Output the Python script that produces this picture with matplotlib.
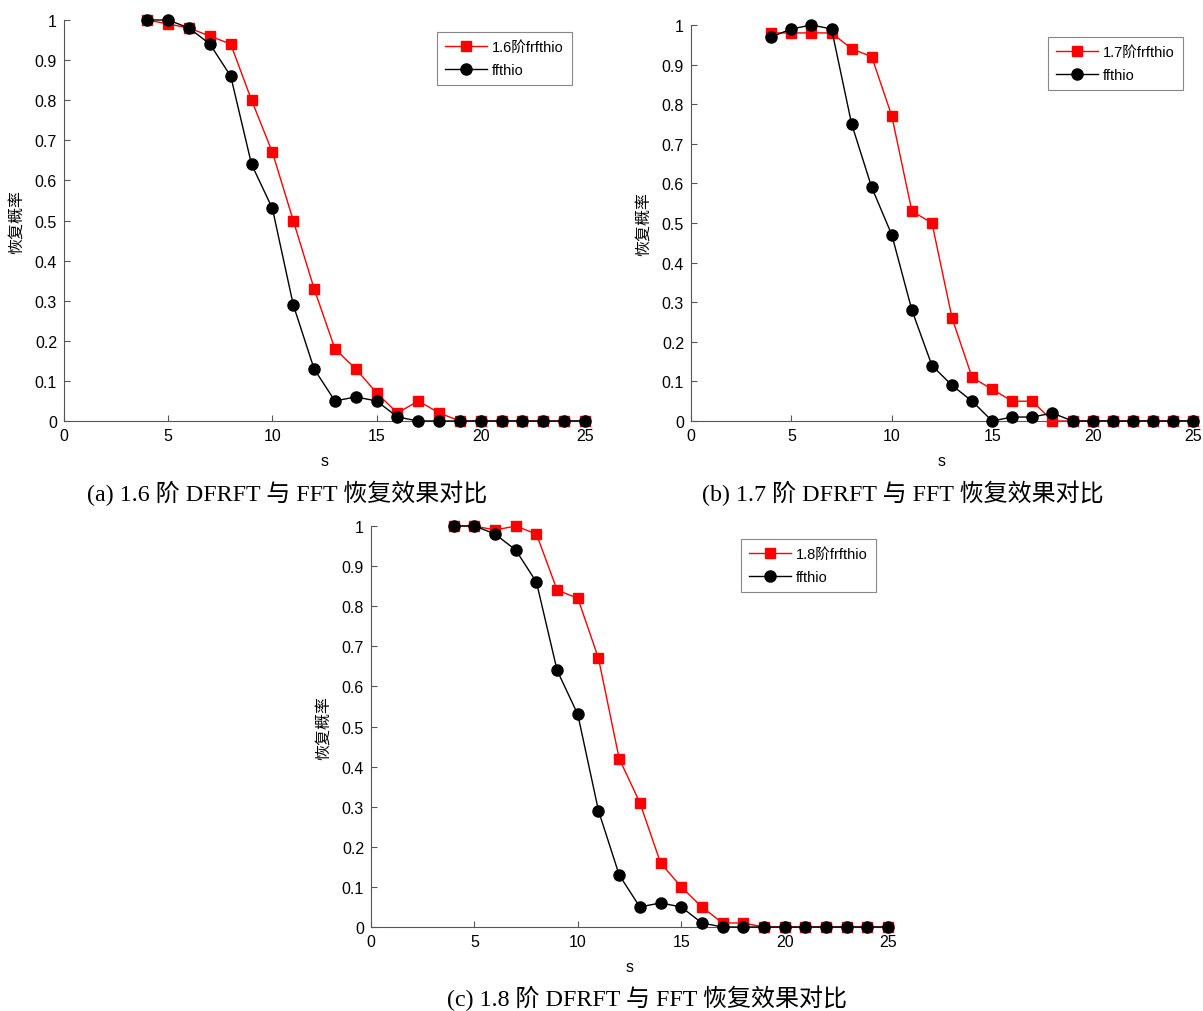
import matplotlib.pyplot as plt

plt.rcParams['font.family'] = ['Liberation Sans', 'Noto Sans CJK SC']

s = list(range(4, 26))

# 1.6 阶
red_16 = [1.0, 0.99, 0.98, 0.96, 0.94, 0.80, 0.67, 0.50, 0.33, 0.18, 0.13,
          0.07, 0.02, 0.05, 0.02, 0, 0, 0, 0, 0, 0, 0]
fft_16 = [1.0, 1.0, 0.98, 0.94, 0.86, 0.64, 0.53, 0.29, 0.13, 0.05, 0.06,
          0.05, 0.01, 0, 0, 0, 0, 0, 0, 0, 0, 0]

# 1.7 阶
red_17 = [0.98, 0.98, 0.98, 0.98, 0.94, 0.92, 0.77, 0.53, 0.50, 0.26, 0.11,
          0.08, 0.05, 0.05, 0.0, 0, 0, 0, 0, 0, 0, 0]
fft_17 = [0.97, 0.99, 1.0, 0.99, 0.75, 0.59, 0.47, 0.28, 0.14, 0.09, 0.05,
          0.0, 0.01, 0.01, 0.02, 0, 0, 0, 0, 0, 0, 0]

# 1.8 阶
red_18 = [1.0, 1.0, 0.99, 1.0, 0.98, 0.84, 0.82, 0.67, 0.42, 0.31, 0.16,
          0.10, 0.05, 0.01, 0.01, 0, 0, 0, 0, 0, 0, 0]
fft_18 = [1.0, 1.0, 0.98, 0.94, 0.86, 0.64, 0.53, 0.29, 0.13, 0.05, 0.06,
          0.05, 0.01, 0, 0, 0, 0, 0, 0, 0, 0, 0]

orders = ['1.6', '1.7', '1.8']
reds = [red_16, red_17, red_18]
ffts = [fft_16, fft_17, fft_18]
tags = ['(a)', '(b)', '(c)']

yticks = [0, 0.1, 0.2, 0.3, 0.4, 0.5, 0.6, 0.7, 0.8, 0.9, 1]
ytick_labels = ['0', '0.1', '0.2', '0.3', '0.4', '0.5', '0.6', '0.7', '0.8', '0.9', '1']

W, H = 1203, 1012
# axes boxes in pixels: left, right, top, bottom
boxes = [(64, 585, 21, 422), (691, 1193, 26, 422), (371, 888, 527, 928)]
legend_anchor = [(572, 33), (1183, 38), (876, 540)]
caption_pos = [(287, 493), (903, 493), (647, 998)]

fig = plt.figure(figsize=(W / 100, H / 100), dpi=100)
serif = ['Liberation Serif', 'Noto Sans CJK SC']

for i in range(3):
    l, r, t, b = boxes[i]
    ax = fig.add_axes([l / W, 1 - b / H, (r - l) / W, (b - t) / H])
    ax.plot(s, reds[i], color='red', marker='s', markersize=6.5, linewidth=1,
            label=orders[i] + '阶frfthio', zorder=2, clip_on=False)
    ax.plot(s, ffts[i], color='black', marker='o', markersize=8, linewidth=1,
            label='ffthio', zorder=3, clip_on=False)
    ax.set_xlim(0, 25)
    ax.set_ylim(0, 1)
    ax.set_xticks([0, 5, 10, 15, 20, 25])
    ax.set_yticks(yticks)
    ax.set_yticklabels(ytick_labels)
    ax.tick_params(direction='in', length=4, labelsize=11.5, color='#555555',
                   labelcolor='black', pad=5)
    for side in ['top', 'right']:
        ax.spines[side].set_visible(False)
    for side in ['left', 'bottom']:
        ax.spines[side].set_color('#555555')
        ax.spines[side].set_linewidth(0.8)
    ax.set_xlabel('s', fontsize=11.5, labelpad=7)
    ax.set_ylabel('恢复概率', fontsize=11.5, labelpad=8)
    ax.patch.set_alpha(0)

    lx, ly = legend_anchor[i]
    leg = ax.legend(loc='upper right', bbox_to_anchor=(lx / W, 1 - ly / H),
                    bbox_transform=fig.transFigure, fontsize=10.5, fancybox=False,
                    framealpha=1, edgecolor='#888888', borderpad=0.55,
                    borderaxespad=0, handlelength=2.9, handletextpad=0.35,
                    labelspacing=0.6)
    leg.get_frame().set_linewidth(0.8)

    cx, cy = caption_pos[i]
    fig.text(cx / W, 1 - cy / H, tags[i] + ' ' + orders[i] + ' 阶 DFRFT 与 FFT 恢复效果对比',
             ha='center', va='center', fontsize=17.3, family=serif)

fig.savefig('out.png', dpi=100)
